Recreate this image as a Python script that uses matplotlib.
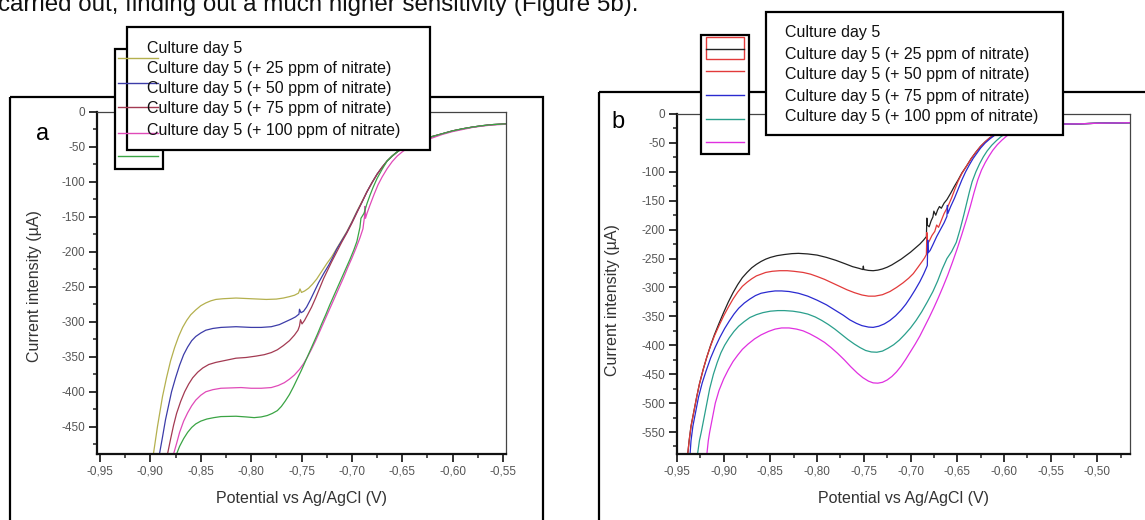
import matplotlib
matplotlib.use("Agg")
import matplotlib.pyplot as plt
from matplotlib.patches import Rectangle
from matplotlib.ticker import MultipleLocator, FuncFormatter

plt.rcParams["font.family"] = ["Liberation Sans", "DejaVu Sans"]

W, H = 1145, 520

LABELS = [
    "Culture day 5",
    "Culture day 5 (+ 25 ppm of nitrate)",
    "Culture day 5 (+ 50 ppm of nitrate)",
    "Culture day 5 (+ 75 ppm of nitrate)",
    "Culture day 5 (+ 100 ppm of nitrate)",
]

# ---- panel a : potential (V) vs current (uA) ----
# shared upper branch where the voltammograms merge
A_TOP_X = [-0.685, -0.680, -0.675, -0.670, -0.665, -0.660, -0.655, -0.650, -0.645, -0.640,
           -0.630, -0.620, -0.610, -0.600, -0.590, -0.580, -0.570, -0.560, -0.547]
A_TOP_Y = [-114, -101, -89, -79, -70, -63, -57, -52, -48, -45,
           -40, -35, -31, -27, -24, -21.5, -19.5, -18, -17]

A_DAY5_X = [-0.899, -0.897, -0.893, -0.888, -0.884, -0.880, -0.876, -0.872, -0.868, -0.864,
            -0.860, -0.855, -0.850, -0.845, -0.840, -0.835, -0.828, -0.815, -0.800, -0.785,
            -0.775, -0.768, -0.762, -0.757, -0.753, -0.7515, -0.750, -0.747, -0.743, -0.739,
            -0.735, -0.730, -0.725, -0.720, -0.715, -0.710, -0.705, -0.700, -0.695, -0.690]
A_DAY5_Y = [-500, -489, -450, -407, -380, -356, -337, -321, -308, -298,
            -290, -283, -277, -273, -270, -268, -267, -266, -267, -268,
            -267.5, -266, -264, -262, -259, -253, -258, -256, -252, -246,
            -239, -228, -217, -207, -195, -183, -171, -157, -142, -128]

A_N25_X = [-0.893, -0.891, -0.888, -0.885, -0.882, -0.879, -0.875, -0.871, -0.867, -0.863,
           -0.859, -0.855, -0.850, -0.845, -0.838, -0.830, -0.815, -0.800, -0.790, -0.780,
           -0.772, -0.766, -0.760, -0.756, -0.7525, -0.752, -0.7505, -0.748, -0.745, -0.741,
           -0.737, -0.733, -0.728, -0.723, -0.719, -0.715, -0.710, -0.705, -0.700, -0.695,
           -0.690]
A_N25_Y = [-500, -489, -465, -440, -420, -400, -380, -362, -347, -336,
           -327, -321, -316, -312, -309.5, -308, -307, -308, -308, -307,
           -304, -300, -296, -293, -289, -282, -287, -285, -279, -268,
           -256, -244, -231, -219, -208, -196, -184, -172, -158, -143,
           -129]

A_N50_X = [-0.885, -0.883, -0.880, -0.877, -0.874, -0.870, -0.866, -0.862, -0.858, -0.853,
           -0.848, -0.842, -0.835, -0.825, -0.815, -0.805, -0.795, -0.787, -0.780, -0.774,
           -0.768, -0.762, -0.757, -0.7535, -0.752, -0.751, -0.7495, -0.747, -0.744, -0.740,
           -0.736, -0.732, -0.728, -0.724, -0.720, -0.715, -0.710, -0.705, -0.700, -0.695,
           -0.690]
A_N50_Y = [-500, -489, -468, -448, -431, -414, -400, -389, -380, -372,
           -366, -361, -358, -355, -352, -351, -349, -347, -344, -340,
           -334, -327, -319, -312, -306, -297, -303, -298, -290, -279,
           -266, -252, -238, -226, -214, -200, -186, -173, -159, -144,
           -129]

A_N75_X = [-0.879, -0.877, -0.874, -0.871, -0.867, -0.863, -0.859, -0.855, -0.850, -0.845,
           -0.838, -0.830, -0.820, -0.810, -0.800, -0.790, -0.780, -0.773, -0.767, -0.762,
           -0.757, -0.752, -0.748, -0.744, -0.740, -0.736, -0.732, -0.728, -0.724, -0.720,
           -0.716, -0.712, -0.708, -0.704, -0.700, -0.696, -0.692, -0.689, -0.6875, -0.687,
           -0.6865, -0.685, -0.682, -0.678, -0.674, -0.670, -0.665, -0.660, -0.655, -0.650,
           -0.645, -0.640, -0.630, -0.620, -0.610, -0.600, -0.590, -0.580, -0.570, -0.560,
           -0.547]
A_N75_Y = [-500, -489, -474, -458, -442, -430, -420, -412, -405, -400,
           -397, -395, -394.5, -394, -395, -395, -394, -391, -387, -382,
           -376, -368, -360, -350, -339, -327, -314, -301, -288, -275,
           -262, -249, -236, -222, -209, -195, -180, -167, -150, -135,
           -152, -145, -133, -118, -104, -93, -81, -71, -63, -57,
           -52, -48, -42, -37, -32, -28, -25, -22, -20, -18.5,
           -17.5]

A_N100_X = [-0.876, -0.874, -0.871, -0.867, -0.863, -0.859, -0.855, -0.850, -0.844, -0.837,
            -0.830, -0.815, -0.805, -0.797, -0.790, -0.784, -0.779, -0.774, -0.770, -0.766,
            -0.762, -0.758, -0.754, -0.750, -0.746, -0.742, -0.738, -0.734, -0.730, -0.726,
            -0.722, -0.718, -0.714, -0.710, -0.706, -0.702, -0.698, -0.695, -0.692, -0.691,
            -0.688, -0.685, -0.682, -0.679, -0.675, -0.670]
A_N100_Y = [-500, -489, -478, -467, -458, -451, -446, -442, -439, -437,
            -435.5, -435, -436, -437, -436, -434, -431, -427, -421, -413,
            -404, -393, -381, -369, -356, -343, -330, -317, -303, -290,
            -276, -263, -250, -237, -224, -211, -197, -185, -165, -152,
            -145, -131, -119, -108, -95, -82]

# ---- panel b ----
B_TOP_X = [-0.640, -0.635, -0.630, -0.625, -0.620, -0.615, -0.610, -0.605, -0.600, -0.595,
           -0.590]
B_TOP_Y = [-90, -77, -66, -56, -48, -41, -36, -31.5, -28, -25.5,
           -23.5]
B_TAIL_X = [-0.580, -0.570, -0.560, -0.540, -0.520, -0.500, -0.480, -0.465]
B_TAIL_Y = [-21, -19.5, -18.5, -17.5, -17, -16, -15.5, -15]

B_DAY5_X = [-0.940, -0.9385, -0.937, -0.935, -0.932, -0.929, -0.926, -0.922, -0.918, -0.914,
            -0.910, -0.905, -0.900, -0.895, -0.890, -0.885, -0.880, -0.875, -0.870, -0.865,
            -0.860, -0.855, -0.850, -0.843, -0.835, -0.827, -0.820, -0.810, -0.800, -0.790,
            -0.780, -0.770, -0.762, -0.755, -0.751, -0.7505, -0.750, -0.745, -0.740, -0.735,
            -0.730, -0.725, -0.720, -0.715, -0.710, -0.705, -0.700, -0.695, -0.690, -0.686,
            -0.683, -0.6825, -0.682, -0.680, -0.678, -0.676, -0.675, -0.673, -0.671, -0.669,
            -0.667, -0.664, -0.661, -0.657, -0.653, -0.649, -0.645]
B_DAY5_Y = [-600, -588, -565, -540, -515, -490, -467, -442, -420, -400,
            -382, -362, -343, -325, -309, -295, -283, -274, -266, -260,
            -255, -251, -248, -245, -243, -241.5, -241, -242, -244, -248,
            -253, -259, -264, -267, -269, -263, -269, -270.5, -271, -270,
            -268, -265, -261, -256, -251, -245, -239, -232, -225, -218,
            -212, -180, -192, -195, -185, -178, -168, -175, -166, -160,
            -163, -154, -148, -137, -125, -114, -102]

B_N25_X = [-0.940, -0.9385, -0.937, -0.935, -0.932, -0.929, -0.926, -0.922, -0.918, -0.914,
           -0.910, -0.905, -0.900, -0.895, -0.890, -0.885, -0.880, -0.875, -0.870, -0.865,
           -0.860, -0.855, -0.848, -0.840, -0.832, -0.825, -0.815, -0.807, -0.800, -0.792,
           -0.784, -0.776, -0.768, -0.760, -0.752, -0.745, -0.738, -0.730, -0.722, -0.715,
           -0.708, -0.702, -0.697, -0.692, -0.688, -0.685, -0.683, -0.6825, -0.682, -0.680,
           -0.677, -0.674, -0.672, -0.670, -0.667, -0.664, -0.660, -0.656, -0.652, -0.649,
           -0.645]
B_N25_Y = [-600, -588, -565, -540, -515, -490, -467, -442, -420, -401,
           -384, -366, -349, -334, -320, -308, -298, -291, -285, -280,
           -277, -274, -272, -271, -271, -272, -274, -277, -281, -286,
           -292, -298, -304, -309, -313, -315, -315, -312.5, -307, -300,
           -292, -284, -276, -265, -256, -249, -243, -205, -225, -220,
           -210, -203, -192, -196, -184, -172, -160, -145, -128, -116,
           -103]

B_N50_X = [-0.937, -0.936, -0.935, -0.933, -0.930, -0.927, -0.923, -0.919, -0.914, -0.909,
           -0.904, -0.899, -0.894, -0.889, -0.884, -0.878, -0.872, -0.866, -0.860, -0.852,
           -0.845, -0.838, -0.830, -0.820, -0.810, -0.800, -0.790, -0.780, -0.772, -0.765,
           -0.758, -0.752, -0.745, -0.740, -0.734, -0.728, -0.722, -0.716, -0.710, -0.705,
           -0.700, -0.695, -0.690, -0.686, -0.683, -0.682, -0.6815, -0.681, -0.679, -0.676,
           -0.672, -0.668, -0.664, -0.661, -0.6605, -0.660, -0.657, -0.653, -0.649, -0.645,
           -0.641, -0.637, -0.633, -0.629, -0.625, -0.620, -0.615, -0.610, -0.605, -0.600,
           -0.595, -0.590]
B_N50_Y = [-600, -588, -565, -540, -515, -490, -465, -445, -422, -403,
           -386, -371, -358, -346, -336, -327, -320, -314, -310, -307.5,
           -306, -306, -307, -310, -315, -322, -330, -340, -348, -356,
           -362, -366, -368.5, -369, -367, -363, -357, -349, -339, -329,
           -317, -304, -290, -277, -266, -262, -218, -240, -236, -226,
           -212, -200, -188, -177, -158, -172, -160, -146, -130, -114,
           -100, -88, -77, -68, -59, -50, -43, -37, -32.5, -29,
           -26, -24]

B_N75_X = [-0.929, -0.928, -0.926, -0.924, -0.921, -0.918, -0.915, -0.911, -0.907, -0.903,
           -0.899, -0.894, -0.889, -0.884, -0.878, -0.872, -0.865, -0.858, -0.850, -0.842,
           -0.835, -0.826, -0.818, -0.810, -0.802, -0.795, -0.788, -0.781, -0.774, -0.767,
           -0.760, -0.754, -0.748, -0.742, -0.736, -0.730, -0.724, -0.718, -0.712, -0.706,
           -0.700, -0.694, -0.688, -0.682, -0.676, -0.671, -0.666, -0.661, -0.656, -0.651,
           -0.647, -0.643, -0.640, -0.637, -0.634, -0.630, -0.626, -0.622, -0.618, -0.613,
           -0.608, -0.603, -0.598, -0.593, -0.588, -0.582, -0.575, -0.565, -0.555]
B_N75_Y = [-600, -588, -565, -550, -525, -500, -475, -450, -430, -413,
           -400, -387, -376, -367, -359, -352, -347, -343.5, -341, -340,
           -340, -341, -343, -346, -351, -357, -364, -372, -381, -390,
           -398, -404, -409, -411.5, -412, -410, -405, -399, -391, -381,
           -370, -357, -342, -325, -307, -289, -268, -250, -238, -222,
           -200, -175, -155, -135, -117, -100, -86, -74, -64, -54,
           -46, -39, -34, -30, -27, -24, -22, -20, -19]

B_N100_X = [-0.919, -0.918, -0.9165, -0.915, -0.912, -0.909, -0.905, -0.900, -0.895, -0.890,
            -0.885, -0.880, -0.874, -0.867, -0.860, -0.852, -0.845, -0.838, -0.830, -0.822,
            -0.815, -0.808, -0.800, -0.792, -0.785, -0.778, -0.771, -0.764, -0.757, -0.751,
            -0.745, -0.740, -0.735, -0.730, -0.725, -0.720, -0.715, -0.710, -0.705, -0.700,
            -0.695, -0.690, -0.685, -0.680, -0.675, -0.670, -0.665, -0.660, -0.655, -0.650,
            -0.645, -0.640, -0.636, -0.632, -0.628, -0.624, -0.620, -0.616, -0.612, -0.607,
            -0.602, -0.597, -0.592, -0.587, -0.582, -0.576, -0.570, -0.562, -0.555]
B_N100_Y = [-600, -588, -565, -550, -525, -500, -478, -458, -442, -428,
            -417, -407, -398, -389, -382, -376, -372, -370, -370, -372,
            -375, -380, -387, -395, -404, -414, -425, -437, -448, -456,
            -462, -465, -465.5, -464, -460, -454, -446, -436, -424, -411,
            -398, -384, -368, -352, -335, -317, -298, -278, -256, -233,
            -208, -182, -160, -136, -114, -97, -84, -73, -63, -53,
            -45, -38, -33, -29, -26, -23.5, -21.5, -20, -19]


def with_tail(xs, ys, tail_x, tail_y):
    # append the shared branch beyond the last own point
    keep = [i for i, tx in enumerate(tail_x) if tx > xs[-1]]
    return xs + [tail_x[i] for i in keep], ys + [tail_y[i] for i in keep]


A_SERIES = [
    with_tail(A_DAY5_X, A_DAY5_Y, A_TOP_X, A_TOP_Y),
    with_tail(A_N25_X, A_N25_Y, A_TOP_X, A_TOP_Y),
    with_tail(A_N50_X, A_N50_Y, A_TOP_X, A_TOP_Y),
    (A_N75_X, A_N75_Y),
    with_tail(A_N100_X, A_N100_Y, A_TOP_X, A_TOP_Y),
]
B_TOP_FULL = with_tail(B_TOP_X, B_TOP_Y, B_TAIL_X, B_TAIL_Y)
B_SERIES = [
    with_tail(B_DAY5_X, B_DAY5_Y, *B_TOP_FULL),
    with_tail(B_N25_X, B_N25_Y, *B_TOP_FULL),
    with_tail(B_N50_X, B_N50_Y, B_TAIL_X, B_TAIL_Y),
    with_tail(B_N75_X, B_N75_Y, B_TAIL_X, B_TAIL_Y),
    with_tail(B_N100_X, B_N100_Y, B_TAIL_X, B_TAIL_Y),
]

A_COLORS = ["#b4b04e", "#3c3ca8", "#a33a52", "#e04ab8", "#3aa444"]
B_COLORS = ["#222222", "#e23a3a", "#2a2ad0", "#2a9f8c", "#e030e0"]


def px_rect(x0, y0, x1, y1):
    return [x0 / W, 1 - y1 / H, (x1 - x0) / W, (y1 - y0) / H]


def comma_fmt(v, pos):
    return f"{v:.2f}".replace(".", ",")


def int_fmt(v, pos):
    return f"{int(round(v))}"


def style_axes(ax, xlim, ylim):
    ax.set_xlim(*xlim)
    ax.set_ylim(*ylim)
    ax.xaxis.set_major_locator(MultipleLocator(0.05))
    ax.xaxis.set_minor_locator(MultipleLocator(0.025))
    ax.yaxis.set_major_locator(MultipleLocator(50))
    ax.yaxis.set_minor_locator(MultipleLocator(25))
    ax.xaxis.set_major_formatter(FuncFormatter(comma_fmt))
    ax.yaxis.set_major_formatter(FuncFormatter(int_fmt))
    for side in ["left", "bottom"]:
        ax.spines[side].set_linewidth(1.6)
        ax.spines[side].set_color("#111111")
    for side in ["top", "right"]:
        ax.spines[side].set_linewidth(0.9)
        ax.spines[side].set_color("#444444")
    ax.tick_params(which="major", direction="out", length=5.5, width=1.3,
                   labelsize=8.5, labelcolor="#555555", color="#222222", pad=3)
    ax.tick_params(which="minor", direction="out", length=3, width=1.1, color="#222222")
    ax.tick_params(top=False, right=False, which="both")


fig = plt.figure(figsize=(W / 100, H / 100), dpi=100)

ax_a = fig.add_axes(px_rect(97, 112, 506, 454))
for (xs, ys), c in zip(A_SERIES, A_COLORS):
    ax_a.plot(xs, ys, color=c, lw=0.9)
style_axes(ax_a, (-0.953, -0.547), (-489, 0))

ax_b = fig.add_axes(px_rect(677, 114, 1130, 454))
for (xs, ys), c in zip(B_SERIES, B_COLORS):
    ax_b.plot(xs, ys, color=c, lw=0.9)
style_axes(ax_b, (-0.95, -0.465), (-588, 0))

# overlay in pixel coordinates for frames, keys and annotations
ov = fig.add_axes([0, 0, 1, 1], zorder=5)
ov.set_xlim(0, W)
ov.set_ylim(H, 0)
ov.axis("off")
ov.patch.set_alpha(0)

ov.text(-2, 10.5, "carried out, finding out a much higher sensitivity (Figure 5b).",
        fontsize=17.4, va="baseline", ha="left", color="#111111")

ov.add_patch(Rectangle((10, 97), 533, 500, fill=False, lw=1.6, ec="black"))
ov.add_patch(Rectangle((599, 92), 600, 500, fill=False, lw=1.6, ec="black"))

ov.text(43, 140, "a", fontsize=17, ha="center", va="baseline")
ov.text(618, 128, "b", fontsize=17, ha="center", va="baseline")

ax_label_kw = dict(fontsize=11.5, color="#333333", ha="center", va="center")
ov.text(35, 286, "Current intensity (µA)", rotation=90, **ax_label_kw)
ov.text(612, 300, "Current intensity (µA)", rotation=90, **ax_label_kw)
ov.text(302, 498, "Potential vs Ag/AgCl (V)", **ax_label_kw)
ov.text(903, 498, "Potential vs Ag/AgCl (V)", **ax_label_kw)

# panel a keys
ov.add_patch(Rectangle((115, 49), 48, 120, fc="white", ec="black", lw=1.6))
for yk, c in zip([58, 83, 107, 133, 156], A_COLORS):
    ov.plot([118, 158], [yk, yk], color=c, lw=1.0)
ov.add_patch(Rectangle((127, 27), 303, 123, fc="white", ec="black", lw=1.6))
for yk, lab in zip([48, 68, 88, 109, 130], LABELS):
    ov.text(147, yk, lab, fontsize=11.5, va="center", ha="left", color="#111111")

# panel b keys
ov.add_patch(Rectangle((701, 35), 48, 119, fc="white", ec="black", lw=1.6))
ov.add_patch(Rectangle((706, 37), 38, 22, fill=False, ec=B_COLORS[1], lw=1.0))
ov.plot([706, 744], [49, 49], color=B_COLORS[0], lw=1.0)
for yk, c in zip([71, 95, 119, 142], B_COLORS[1:]):
    ov.plot([706, 744], [yk, yk], color=c, lw=1.0)
ov.add_patch(Rectangle((766, 12), 297, 123, fc="white", ec="black", lw=1.6))
for yk, lab in zip([33, 54, 75, 96, 117], LABELS):
    ov.text(785, yk, lab, fontsize=11.5, va="center", ha="left", color="#111111")

fig.savefig("out.png", dpi=100)
